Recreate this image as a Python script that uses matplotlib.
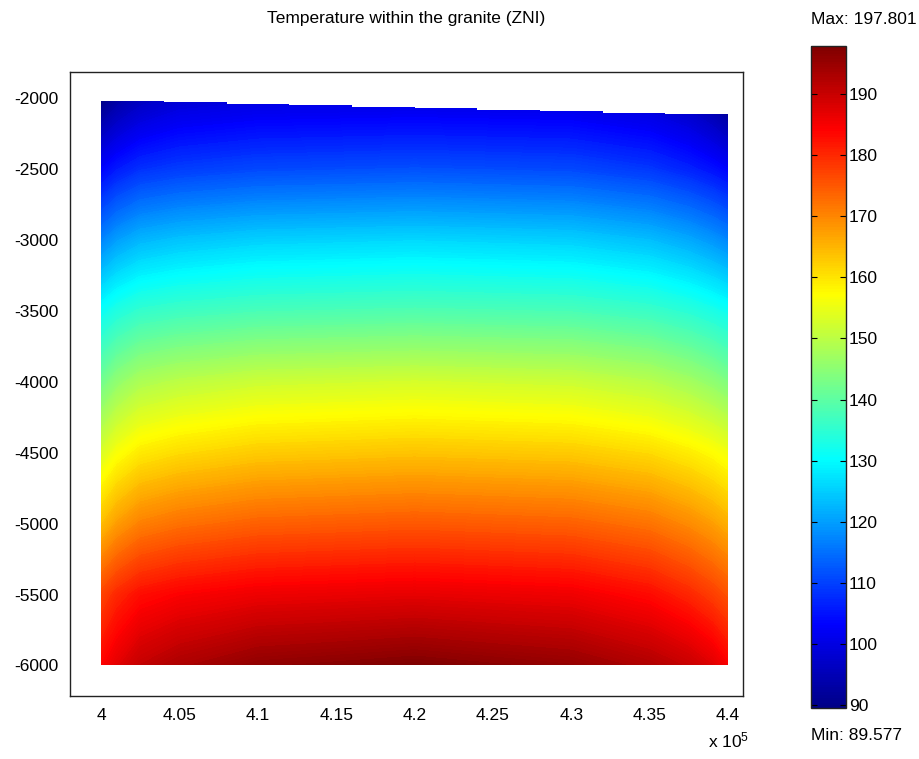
import numpy as np
import matplotlib
matplotlib.use("Agg")
import matplotlib.pyplot as plt
from matplotlib.path import Path
from matplotlib.patches import PathPatch
from matplotlib.ticker import FuncFormatter
from matplotlib.colors import LinearSegmentedColormap, Normalize
from matplotlib.cm import ScalarMappable

plt.rcParams['font.family'] = ['Liberation Sans', 'DejaVu Sans']
plt.rcParams['mathtext.default'] = 'regular'

# %% data
# sample positions (m) of the temperature grid
x_nodes = [400000, 401000, 402500, 405000, 410000, 420000, 430000, 435000, 437500, 439000, 440000]
y_nodes = [-2019, -2500, -3000, -3500, -4000, -4500, -5000, -5500, -6000]

# temperature (deg C) at each depth, west -> east
T_2019 = [89.6, 93.0, 96.0, 98.5, 99.7, 100.1, 99.7, 98.0, 95.5, 92.5, 89.6]
T_2500 = [103.0, 105.7, 108.1, 109.4, 110.7, 111.5, 110.7, 108.8, 106.6, 104.7, 103.0]
T_3000 = [117.0, 119.9, 122.4, 123.8, 125.2, 126.0, 125.1, 123.2, 121.0, 119.0, 117.3]
T_3500 = [131.0, 133.4, 135.5, 136.6, 137.8, 138.5, 137.8, 136.2, 134.4, 132.8, 131.4]
T_4000 = [142.0, 145.4, 148.3, 149.9, 151.6, 152.5, 151.6, 149.6, 147.3, 145.3, 143.5]
T_4500 = [153.0, 156.4, 159.3, 160.9, 162.6, 163.5, 162.7, 161.0, 159.0, 157.3, 155.7]
T_5000 = [164.0, 167.5, 170.6, 172.3, 174.0, 175.0, 174.0, 172.0, 169.5, 167.4, 165.5]
T_5500 = [177.0, 180.1, 182.8, 184.3, 185.8, 186.7, 185.6, 183.1, 180.2, 177.7, 175.5]
T_6000 = [184.0, 187.0, 190.5, 193.0, 196.0, 197.8, 195.5, 192.5, 190.0, 187.5, 184.5]

# stepped top of the granite body
top_x = [400000, 404000, 408000, 412000, 416000, 420000, 424000, 428000, 432000, 436000, 440000]
top_y = [-2019, -2030, -2040, -2051, -2062, -2073, -2084, -2095, -2106, -2116]
bottom_y = -6000

t_min, t_max = 89.577, 197.801
cbar_ticks = [90, 100, 110, 120, 130, 140, 150, 160, 170, 180, 190]
x_ticks = [400000, 405000, 410000, 415000, 420000, 425000, 430000, 435000, 440000]
y_ticks = [-6000, -5500, -5000, -4500, -4000, -3500, -3000, -2500, -2000]

# MATLAB-style jet (yellow at 5/8, red at 7/8)
jet_stops = [0, 1 / 8, 3 / 8, 5 / 8, 7 / 8, 1]
jet_colors = [(0, 0, 0.53), (0, 0, 1), (0, 1, 1), (1, 1, 0), (1, 0, 0), (0.5, 0, 0)]
cmap = LinearSegmentedColormap.from_list("jet_ml", list(zip(jet_stops, jet_colors)), N=256)
norm = Normalize(vmin=t_min, vmax=t_max)

# %% plot
T = np.array([T_2019, T_2500, T_3000, T_3500, T_4000, T_4500, T_5000, T_5500, T_6000])
X, Y = np.meshgrid(x_nodes, y_nodes)

fig = plt.figure(figsize=(9.2, 7.59), dpi=100)
ax = fig.add_axes([70 / 920, 63 / 759, 673 / 920, 624 / 759])

# fine filled contours -> smooth field, interpolated in value space
field = ax.contourf(X, Y, T, levels=np.linspace(t_min, t_max, 220), cmap=cmap, norm=norm)

# clip the field to the stepped outline
verts = [(top_x[0], bottom_y)]
for i, ty in enumerate(top_y):
    verts.append((top_x[i], ty))
    verts.append((top_x[i + 1], ty))
verts.append((top_x[-1], bottom_y))
verts.append((top_x[0], bottom_y))
outline = PathPatch(Path(verts, closed=True), transform=ax.transData,
                    facecolor='none', edgecolor='none')
ax.add_patch(outline)
field.set_clip_path(outline)

ax.set_xlim(398000, 440960)
ax.set_ylim(-6215, -1817)
ax.set_xticks(x_ticks)
ax.set_yticks(y_ticks)
ax.xaxis.set_major_formatter(FuncFormatter(lambda v, p: f"{v / 1e5:g}"))
ax.yaxis.set_major_formatter(FuncFormatter(lambda v, p: f"{v:.0f}"))
ax.tick_params(length=0, labelsize=12.5)
ax.tick_params(axis='x', pad=9)
ax.tick_params(axis='y', pad=8)
for sp in ax.spines.values():
    sp.set_linewidth(1.0)
    sp.set_color('#222222')

fig.text(406 / 920, 1 - 19 / 759, "Temperature within the granite (ZNI)",
         ha='center', va='center', fontsize=12.5)
fig.text(729 / 920, 1 - 740 / 759, r"x 10$^5$", ha='center', va='center', fontsize=12.5)

# colorbar
cax = fig.add_axes([811 / 920, 51 / 759, 35 / 920, 662 / 759])
cb = fig.colorbar(ScalarMappable(norm=norm, cmap=cmap), cax=cax, ticks=cbar_ticks)
cb.ax.tick_params(direction='in', left=True, right=True, length=4, width=0.8,
                  labelsize=12.5, pad=2)
cb.outline.set_linewidth(1.0)
cb.outline.set_edgecolor('#222222')

fig.text(811 / 920, 1 - 20 / 759, f"Max: {t_max:.3f}", ha='left', va='center', fontsize=12.5)
fig.text(811 / 920, 1 - 735 / 759, f"Min: {t_min:.3f}", ha='left', va='center', fontsize=12.5)

fig.savefig("out.png", dpi=100)
